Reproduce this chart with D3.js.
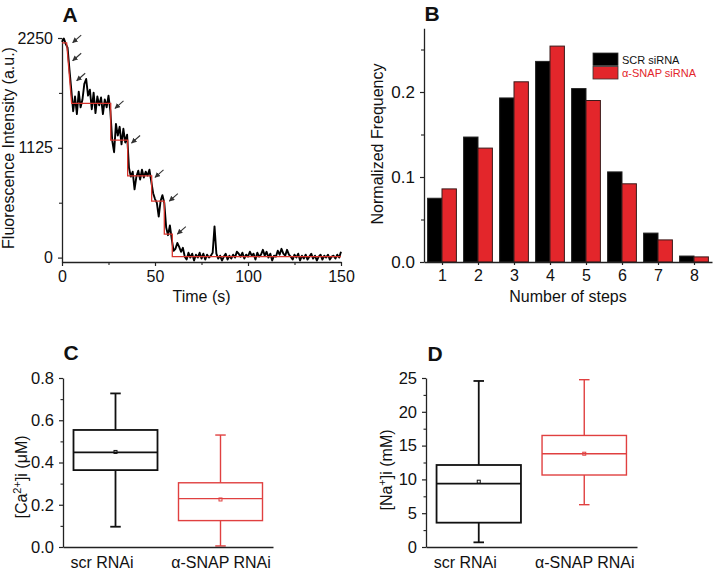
<!DOCTYPE html>
<html><head><meta charset="utf-8">
<script src="https://cdn.jsdelivr.net/npm/d3@7"></script>
<style>
body{margin:0;background:#fff}
svg{display:block}
text{font-family:"Liberation Sans",Arial,Helvetica,sans-serif;fill:#111}
</style>
</head><body>
<script>
// ---------- Panel A data ----------
const traceStep = 1; // seconds between samples
const intensity = [
2210,2245,2190,2150,1930,1720,1500,1650,1470,1700,
1540,1620,1780,1830,1660,1720,1520,1690,1480,1650,
1560,1640,1470,1620,1540,1660,1500,1200,1080,1370,
1250,1340,1160,1320,1180,1260,920,830,880,700,
830,890,800,900,820,880,840,900,780,660,
600,560,420,580,640,560,310,230,330,190,
70,90,150,110,60,100,10,-20,50,0,
40,-30,30,0,50,-10,40,-20,30,0,
20,50,320,40,-10,20,-30,10,40,-20,
20,-10,30,0,60,40,10,50,-10,30,
10,60,20,40,-20,50,10,30,80,20,
60,0,40,-30,20,10,70,30,90,40,
20,80,30,10,-20,30,0,40,-30,20,
-10,30,-20,10,40,-10,20,-30,10,30,
-20,20,0,30,-20,10,20,-10,30,0,60];
const fitTime  = [0,2.5,5.2,26.2,26.2,35.3,35.3,48.2,48.2,55,55,59.3,59.3,150];
const fitLevel = [2200,2200,1580,1580,1204,1204,838,838,579,579,241,241,10,10];
const arrowTime  = [5.75,5.75,7.9,28.5,37.4,50,57.7,62];
const arrowLevel = [2202,2017,1812,1529,1174,822,579,241];
const timeTicks = [0,50,100,150];
const timeMinor = [25,75,125];
const intensityTicks = [0,1125,2250];
const intensityMinor = [562.5,1687.5];

// ---------- Panel B data ----------
const steps = [1,2,3,4,5,6,7,8];
const scrFreq  = [0.075,0.147,0.193,0.236,0.204,0.106,0.034,0.007];
const snapFreq = [0.086,0.134,0.212,0.254,0.190,0.092,0.026,0.006];
const freqTicks = [0.0,0.1,0.2];
const freqMinor = [0.05,0.15,0.25];
const seriesNames = ["SCR siRNA","α-SNAP siRNA"];

// ---------- Panel C/D data ----------
const groups = ["scr RNAi","α-SNAP RNAi"];
const caMin=[0.096,0.005], caQ1=[0.364,0.125], caMed=[0.448,0.229], caQ3=[0.554,0.304], caMax=[0.727,0.530], caMean=[0.450,0.225];
const caTicks=[0,0.2,0.4,0.6,0.8], caMinor=[0.1,0.3,0.5,0.7];
const naMin=[0.69,6.26], naQ1=[3.6,10.65], naMed=[9.37,13.8], naQ3=[12.13,16.5], naMax=[24.56,24.75], naMean=[9.66,13.8];
const naTicks=[0,5,10,15,20,25], naMinor=[2.5,7.5,12.5,17.5,22.5];

const RED = "#e3262b";
const BOXRED = "#e04040";
const AXC = "#222";

const svg = d3.select("body").append("svg").attr("width",713).attr("height",572);

function styleAxis(g, fs){
  g.select(".domain").attr("stroke",AXC).attr("stroke-width",1.3);
  g.selectAll(".tick line").attr("stroke",AXC).attr("stroke-width",1.2);
  g.selectAll(".tick text").attr("font-size",fs).attr("fill","#111")
    .attr("font-family",'"Liberation Sans",Arial,sans-serif');
}
function minorAxis(g){
  g.select(".domain").remove();
  g.selectAll(".tick line").attr("stroke",AXC).attr("stroke-width",1.1);
  g.selectAll(".tick text").remove();
}
function panelLabel(txt,x,y){
  svg.append("text").attr("x",x).attr("y",y).attr("text-anchor","middle")
    .attr("font-size",21).attr("font-weight","bold").text(txt);
}
function yTitle(x,y,build){
  const t = svg.append("text").attr("transform",`translate(${x},${y}) rotate(-90)`)
    .attr("text-anchor","middle").attr("font-size",16);
  build(t);
}

// ================= Panel A =================
{
  const x = d3.scaleLinear().domain([0,150]).range([62,341]);
  const y = d3.scaleLinear().domain([-45,2250]).range([262,38]);
  const gx = svg.append("g").attr("transform","translate(0,262)")
    .call(d3.axisBottom(x).tickValues(timeTicks).tickSize(4).tickSizeOuter(0).tickPadding(5).tickFormat(d3.format("d")));
  styleAxis(gx,16);
  svg.append("g").attr("transform","translate(0,262)")
    .call(d3.axisBottom(x).tickValues(timeMinor).tickSize(3).tickFormat("")).call(minorAxis);
  const gy = svg.append("g").attr("transform","translate(62,0)")
    .call(d3.axisLeft(y).tickValues(intensityTicks).tickSize(4).tickSizeOuter(0).tickPadding(5).tickFormat(d3.format("d")));
  styleAxis(gy,16);
  svg.append("g").attr("transform","translate(62,0)")
    .call(d3.axisLeft(y).tickValues(intensityMinor).tickSize(3).tickFormat("")).call(minorAxis);

  const line = d3.line().x((d,i)=>x(i*traceStep)).y(d=>y(d));
  svg.append("path").datum(intensity).attr("d",line).attr("fill","none")
    .attr("stroke","#000").attr("stroke-width",1.9).attr("stroke-linejoin","round");
  const fit = fitTime.map((t,i)=>[t,fitLevel[i]]);
  svg.append("path").datum(fit).attr("d",d3.line().x(d=>x(d[0])).y(d=>y(d[1])))
    .attr("fill","none").attr("stroke","#d8342c").attr("stroke-width",1.3);

  const defs = svg.append("defs");
  defs.append("marker").attr("id","ah").attr("viewBox","0 0 10 10").attr("refX",9).attr("refY",5)
    .attr("markerWidth",5).attr("markerHeight",5).attr("orient","auto")
    .append("path").attr("d","M0,0L10,5L0,10z").attr("fill","#333");
  arrowTime.forEach((t,i)=>{
    const hx=x(t), hy=y(arrowLevel[i]);
    svg.append("line").attr("x1",hx+8.5).attr("y1",hy-7.5).attr("x2",hx).attr("y2",hy)
      .attr("stroke","#333").attr("stroke-width",1.1).attr("marker-end","url(#ah)");
  });

  svg.append("text").attr("x",x(75)).attr("y",302).attr("text-anchor","middle")
    .attr("font-size",16).text("Time (s)");
  yTitle(14,148,t=>t.text("Fluorescence Intensity (a.u.)"));
  panelLabel("A",70,22);
}

// ================= Panel B =================
{
  const x = d3.scaleLinear().domain([0.5,8.5]).range([424,712]);
  const y = d3.scaleLinear().domain([0,0.275]).range([262,28.25]);
  const bw = 0.4;
  svg.append("g").selectAll("rect.s").data(steps).join("rect")
    .attr("x",d=>x(d-bw)).attr("width",d=>x(d)-x(d-bw))
    .attr("y",(d,i)=>y(scrFreq[i])).attr("height",(d,i)=>y(0)-y(scrFreq[i]))
    .attr("fill","#000").attr("stroke","#222").attr("stroke-width",1);
  svg.append("g").selectAll("rect.r").data(steps).join("rect")
    .attr("x",d=>x(d)).attr("width",d=>x(d+bw)-x(d))
    .attr("y",(d,i)=>y(snapFreq[i])).attr("height",(d,i)=>y(0)-y(snapFreq[i]))
    .attr("fill",RED).attr("stroke","#3a1a1a").attr("stroke-width",1);

  const gx = svg.append("g").attr("transform","translate(0,262)")
    .call(d3.axisBottom(x).tickValues(steps).tickSize(3).tickSizeOuter(0).tickPadding(5).tickFormat(d3.format("d")));
  styleAxis(gx,16);
  const gy = svg.append("g").attr("transform","translate(424,0)")
    .call(d3.axisLeft(y).tickValues(freqTicks).tickSize(4).tickSizeOuter(0).tickPadding(5).tickFormat(d3.format(".1f")));
  styleAxis(gy,17);
  svg.append("g").attr("transform","translate(424,0)")
    .call(d3.axisLeft(y).tickValues(freqMinor).tickSize(3).tickFormat("")).call(minorAxis);

  // legend
  const lg = svg.append("g");
  const lcol = ["#000",RED];
  seriesNames.forEach((n,i)=>{
    lg.append("rect").attr("x",593).attr("y",53+i*13.5).attr("width",25).attr("height",12.5)
      .attr("fill",lcol[i]).attr("stroke","#333").attr("stroke-width",0.8);
    lg.append("text").attr("x",622).attr("y",63.5+i*13.5).attr("font-size",11)
      .style("fill",i===0?"#111":RED).text(n);
  });

  svg.append("text").attr("x",568).attr("y",302).attr("text-anchor","middle")
    .attr("font-size",16).text("Number of steps");
  yTitle(383,144,t=>t.text("Normalized Frequency"));
  panelLabel("B",432,21);
}

// ================= Box panels =================
const labelShift = [-14,0];
function boxPanel(opt){
  const x = d3.scaleLinear().domain([0.5,2.5]).range([opt.x0,opt.x1]);
  const y = d3.scaleLinear().domain(opt.domain).range([547,378]);
  const colors = ["#111",BOXRED];
  const widths = [1.8,1.4];
  groups.forEach((gname,i)=>{
    const c=i+1, col=colors[i], sw=widths[i];
    const g = svg.append("g").attr("stroke",col).attr("stroke-width",sw).attr("fill","none");
    g.append("line").attr("x1",x(c)).attr("x2",x(c)).attr("y1",y(opt.q3[i])).attr("y2",y(opt.max[i]));
    g.append("line").attr("x1",x(c)).attr("x2",x(c)).attr("y1",y(opt.q1[i])).attr("y2",y(opt.min[i]));
    [opt.max[i],opt.min[i]].forEach(v=>{
      g.append("line").attr("x1",x(c-0.05)).attr("x2",x(c+0.05)).attr("y1",y(v)).attr("y2",y(v));
    });
    g.append("rect").attr("x",x(c-0.4)).attr("width",x(c+0.4)-x(c-0.4))
      .attr("y",y(opt.q3[i])).attr("height",y(opt.q1[i])-y(opt.q3[i]));
    g.append("line").attr("x1",x(c-0.4)).attr("x2",x(c+0.4)).attr("y1",y(opt.med[i])).attr("y2",y(opt.med[i]));
    g.append("rect").attr("x",x(c)-1.5).attr("y",y(opt.mean[i])-1.5).attr("width",3).attr("height",3)
      .attr("stroke-width",1);
  });
  const gx = svg.append("g").attr("transform","translate(0,547)")
    .call(d3.axisBottom(x).tickValues([1,2]).tickSize(0).tickSizeOuter(0).tickPadding(10).tickFormat((d)=>groups[d-1]));
  styleAxis(gx,16);
  gx.selectAll(".tick text").attr("dx",(d)=>labelShift[d-1]);
  const gy = svg.append("g").attr("transform",`translate(${opt.x0},0)`)
    .call(d3.axisLeft(y).tickValues(opt.ticks).tickSize(4).tickSizeOuter(0).tickPadding(5).tickFormat(opt.fmt));
  styleAxis(gy,16.5);
  svg.append("g").attr("transform",`translate(${opt.x0},0)`)
    .call(d3.axisLeft(y).tickValues(opt.minor).tickSize(2.5).tickFormat("")).call(minorAxis);
}

boxPanel({x0:63,x1:273,domain:[0,0.8],min:caMin,q1:caQ1,med:caMed,q3:caQ3,max:caMax,mean:caMean,
  ticks:caTicks,minor:caMinor,fmt:d3.format(".1f")});
yTitle(27,477,t=>{t.append("tspan").text("[Ca");t.append("tspan").attr("baseline-shift","super").attr("font-size",11).text("2+");t.append("tspan").text("]i (μM)");});
panelLabel("C",71,360);

boxPanel({x0:426,x1:637,domain:[0,25],min:naMin,q1:naQ1,med:naMed,q3:naQ3,max:naMax,mean:naMean,
  ticks:naTicks,minor:naMinor,fmt:d3.format("d")});
yTitle(392,470,t=>{t.append("tspan").text("[Na");t.append("tspan").attr("baseline-shift","super").attr("font-size",11).text("+");t.append("tspan").text("]i (mM)");});
panelLabel("D",435,361);
</script>
</body></html>
